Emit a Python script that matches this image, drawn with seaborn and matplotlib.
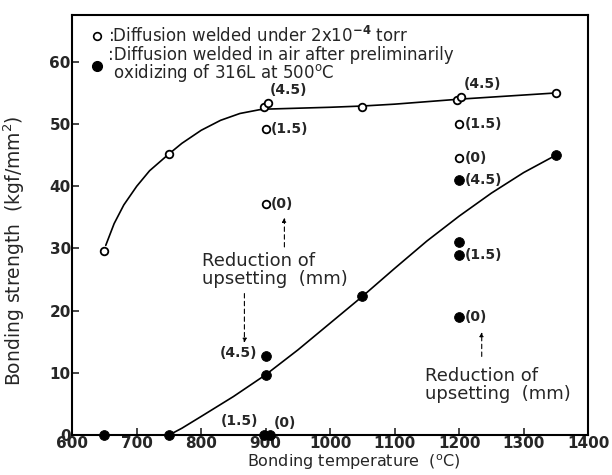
import numpy as np
import pandas as pd
import matplotlib
matplotlib.use("Agg")
import matplotlib.pyplot as plt
import seaborn as sns
from matplotlib.lines import Line2D

# ---------------------------
# Data
# ---------------------------

# open circles: diffusion welded under vacuum
vac_temp = [650, 750, 897, 903, 900, 900, 1050, 1197, 1203, 1200, 1200, 1350]
vac_strength = [29.6, 45.2, 52.8, 53.4, 49.2, 37.2, 52.8, 53.8, 54.4, 50.0, 44.6, 55.0]

# filled circles: welded in air after pre-oxidizing
air_temp = [650, 750, 897, 906, 900, 900, 1050, 1200, 1200, 1200, 1200, 1350]
air_strength = [0.0, 0.0, 0.0, 0.0, 9.7, 12.7, 22.3, 41.0, 31.0, 29.0, 19.0, 45.0]

# hand-drawn trend curves
vac_curve_x = [652, 665, 680, 700, 720, 740, 750, 770, 800, 830, 860, 890, 900,
               1000, 1050, 1100, 1200, 1350]
vac_curve_y = [30.5, 34.0, 37.0, 40.0, 42.5, 44.3, 45.2, 46.9, 49.0, 50.6, 51.7, 52.3, 52.4,
               52.7, 52.9, 53.2, 54.0, 55.0]
air_curve_x = [650, 750, 770, 800, 850, 900, 950, 1000, 1050, 1100, 1150, 1200, 1250, 1300, 1350]
air_curve_y = [0.0, 0.0, 1.1, 3.0, 6.2, 9.7, 13.7, 18.0, 22.3, 26.8, 31.2, 35.2, 38.9, 42.2, 45.0]

# reduction of upsetting labels (mm)
vac_labels = [(900, 53.4, "(4.5)", "ur"), (900, 49.2, "(1.5)", "r"), (900, 37.2, "(0)", "r"),
              (1200, 54.4, "(4.5)", "ur"), (1200, 50.0, "(1.5)", "r"), (1200, 44.6, "(0)", "r")]
air_labels = [(1200, 41.0, "(4.5)", "r"), (1200, 29.0, "(1.5)", "r"), (1200, 19.0, "(0)", "r"),
              (900, 12.7, "(4.5)", "l"), (897, 0.0, "(1.5)", "ul"), (906, 0.0, "(0)", "ur")]

x_ticks = [600, 700, 800, 900, 1000, 1100, 1200, 1300, 1400]
y_ticks = [0, 10, 20, 30, 40, 50, 60]

# ---------------------------
# Plot
# ---------------------------

sns.set_style("ticks")
plt.rcParams["font.family"] = ["DejaVu Sans"]

fig = plt.figure(figsize=(6.12, 4.75), dpi=100)
ax = fig.add_axes([0.118, 0.084, 0.843, 0.884])

sns.lineplot(x=vac_curve_x, y=vac_curve_y, ax=ax, color="black", lw=1.2, sort=False)
sns.lineplot(x=air_curve_x, y=air_curve_y, ax=ax, color="black", lw=1.2, sort=False)

sns.scatterplot(x=vac_temp, y=vac_strength, ax=ax, marker="o", s=30,
                facecolor="white", edgecolor="black", linewidth=1.3, zorder=5)
sns.scatterplot(x=air_temp, y=air_strength, ax=ax, marker="o", s=50,
                color="black", edgecolor="black", zorder=5, clip_on=False)

offsets = {"r": (4, 0, "left", "center"), "ur": (3, 4, "left", "bottom"),
           "l": (-6, 2, "right", "center"), "ul": (-4, 5, "right", "bottom")}
for x, y, txt, pos in vac_labels + air_labels:
    dx, dy, ha, va = offsets[pos]
    ax.annotate(txt, (x, y), xytext=(dx, dy), textcoords="offset points",
                ha=ha, va=va, fontsize=10, fontweight="bold")

# "Reduction of upsetting" notes with dashed arrows
note_kw = dict(fontsize=13, ha="left", va="center", linespacing=1.0)
arrow_kw = dict(arrowstyle="-|>", ls=(0, (4, 3)), lw=0.8, color="black", mutation_scale=6)
ax.text(801, 26.6, "Reduction of\nupsetting  (mm)", **note_kw)
ax.annotate("", xy=(929, 35.4), xytext=(929, 29.8), arrowprops=arrow_kw)
ax.annotate("", xy=(867, 14.4), xytext=(867, 23.2), arrowprops=arrow_kw)
ax.text(1147, 8.0, "Reduction of\nupsetting  (mm)", **note_kw)
ax.annotate("", xy=(1235, 17.0), xytext=(1235, 12.2), arrowprops=arrow_kw)

handles = [
    Line2D([], [], marker="o", ls="none", mfc="white", mec="black", ms=5.5, mew=1.2),
    Line2D([], [], marker="o", ls="none", color="black", ms=7),
]
labels = [":Diffusion welded under 2x10$^{\\mathbf{-4}}$ torr",
          ":Diffusion welded in air after preliminarily\n oxidizing of 316L at 500$^{\\rm o}$C"]
leg = ax.legend(handles, labels, loc="upper left", bbox_to_anchor=(0.025, 0.99), frameon=False,
                fontsize=12, handlelength=0.6, handletextpad=0.4, labelspacing=0.0,
                borderaxespad=0)
for t in leg.get_texts():
    t.set_linespacing(0.85)

ax.set_xlim(600, 1400)
ax.set_ylim(0, 67.5)
ax.set_xticks(x_ticks)
ax.set_yticks(y_ticks)
ax.tick_params(direction="in", length=5, width=1.2, labelsize=11, pad=1)
for lab in ax.get_xticklabels() + ax.get_yticklabels():
    lab.set_fontweight("bold")
for sp in ax.spines.values():
    sp.set_linewidth(1.5)
    sp.set_color("black")

ax.set_xlabel("Bonding temperature  ($^{\\rm o}$C)", fontsize=11.5)
ax.set_ylabel("Bonding strength  (kgf/mm$^2$)", fontsize=13.5)
ax.xaxis.set_label_coords(0.545, -0.042)
ax.yaxis.set_label_coords(-0.088, 0.44)

fig.savefig("out.png", dpi=100)
